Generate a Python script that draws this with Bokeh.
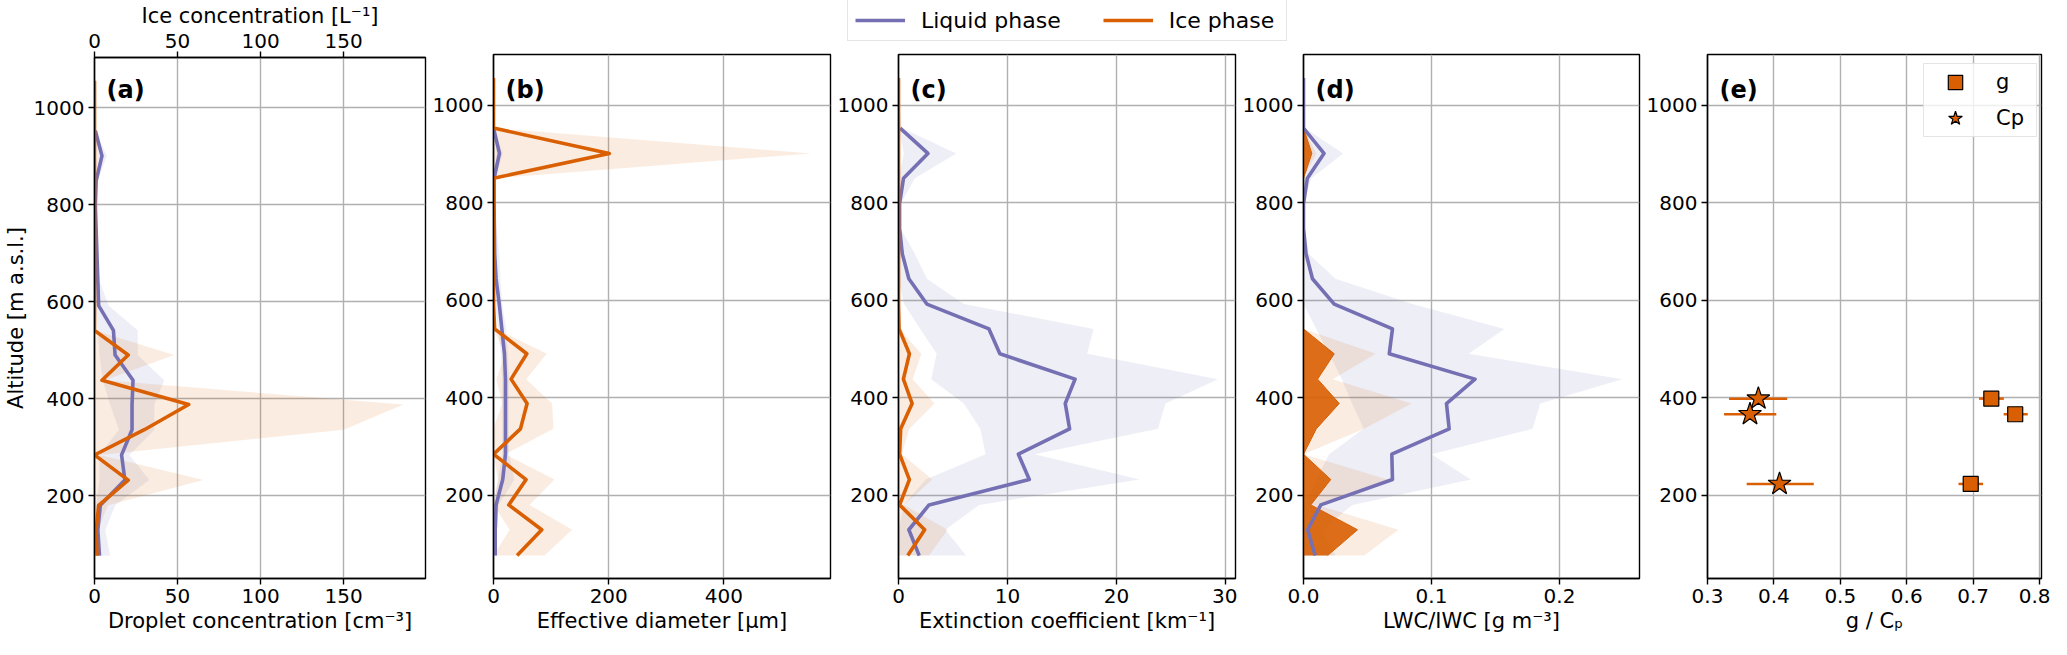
import numpy as np
from bokeh.plotting import figure
from bokeh.layouts import row, column
from bokeh.models import Range1d, LinearAxis, Label, Legend, PrintfTickFormatter
from bokeh.embed import file_html
from bokeh.resources import INLINE

nan = float("nan")

# altitude levels [m a.s.l.], bottom to top
alt = [76, 129, 180, 232, 284, 336, 388, 438, 490, 541,
       592, 644, 695, 747, 798, 850, 901, 953, 1004, 1056]

# (a) droplet concentration [cm-3] / ice concentration [L-1]
nd_mean = [3, 2, 3.5, 18.3, 16.3, 22.6, 22.6, 23.2, 12.4, 11.4,
           2.5, 2, 1.5, 1, 0.5, 1, 4.5, 0.5, nan, nan]
nd_low = [0, 0, 1, 3, 3, 14.7, 9.4, 5, 3, 2,
          0.5, 0.5, 0.5, 0.3, 0, 0, 1.5, 0, 0, 0]
nd_high = [9.4, 6.5, 12.4, 33, 21, 36, 36, 42, 26, 26,
           8.5, 3, 2, 1.5, 1, 2, 7.5, 0.5, 0, 0]
ni_mean = [1.5, 1, 2.5, 20.3, 0, 30, 56.7, 4.5, 20.3, 0,
           0, 0, 0, 0, 0, 0, 0, 0, 0, 0]
ni_high = [3, 2, 8, 65.6, 3, 150, 186, 6, 47.9, 0,
           0, 0, 0, 0, 0, 0, 0, 0, 0, 0]
ni_low = [0, 0, 0, 0, 0, 0, 0, 0, 0, 0,
          0, 0, 0, 0, 0, 0, 0, 0, 0, 0]

# (b) effective diameter [um]
dl_mean = [3, 3, 4.5, 16, 20.8, 20.8, 20.8, 20.8, 19, 14.5,
           10, 4.5, 2, 1.5, 1, 1, 10.4, 0, nan, nan]
dl_low = [0, 0, 0, 8, 15, 15, 15, 15, 13, 8,
          3, 0, 0, 0, 0, 0, 5, 0, 0, 0]
dl_high = [6, 6, 9, 36, 27, 27, 27, 27, 25, 22,
           15, 12, 10, 5, 2, 3, 16, 0.5, 0, 0]
di_mean = [40.9, 83.8, 26.5, 56.6, 0, 46.8, 58.3, 30.5, 57.8, 2,
           0, 0, 0, 0, 0, 0, 201, 0, 0, 0]
di_low = [0, 28, 0, 8, 0, 0, 15, 5, 20, 0,
          0, 0, 0, 0, 0, 0, 0, 0, 0, 0]
di_high = [88.5, 136.4, 62.4, 105.8, 20, 104, 101.7, 56.6, 92.5, 5,
           0, 0, 0, 0, 0, 0, 551, 0, 0, 0]

# (c) extinction coefficient [km-1]
el_mean = [1.9, 0.95, 2.8, 12.0, 11.0, 15.7, 15.3, 16.2, 9.3, 8.3,
           2.6, 0.95, 0.35, 0.1, 0.1, 0.46, 2.7, 0.15, nan, nan]
el_low = [0, 0, 0.5, 2.5, 8, 7.5, 6, 3, 3.5, 2,
          0.5, 0, 0, 0, 0, 0, 0.5, 0, 0, 0]
el_high = [6.2, 4.3, 7.4, 22.1, 12.5, 23.8, 24.5, 29.3, 17.3, 17.9,
           6.0, 2.6, 1.5, 0.2, 0.2, 1.5, 5.3, 0.3, 0, 0]
ei_mean = [0.85, 2.4, 0.1, 1.0, 0.1, 0.2, 1.25, 0.45, 1.0, 0.05,
           0, 0, 0, 0, 0, 0, 0, 0, 0, 0]
ei_low = [0, 0, 0, 0, 0, 0, 0, 0, 0, 0,
          0, 0, 0, 0, 0, 0, 0, 0, 0, 0]
ei_high = [2.8, 4.5, 0.5, 3.1, 0.3, 1.0, 3.3, 1.3, 2.1, 0.1,
           0, 0, 0, 0, 0, 0, 0, 0, 0, 0]

# (d) LWC / IWC [g m-3]
lwc_mean = [0.0091, 0.0033, 0.0135, 0.0695, 0.069, 0.1138, 0.1117, 0.134, 0.067, 0.0695,
            0.024, 0.007, 0.002, 0, 0, 0.003, 0.016, 0, 0, 0]
lwc_low = [0, 0, 0, 0.01, 0.02, 0.047, 0.038, 0.03, 0.02, 0.01,
           0, 0, 0, 0, 0, 0, 0, 0, 0, 0]
lwc_high = [0.025, 0.015, 0.038, 0.1307, 0.1, 0.179, 0.185, 0.249, 0.129, 0.157,
            0.085, 0.025, 0.004, 0.001, 0, 0.006, 0.031, 0.001, 0, 0]
iwc_mean = [0.0188, 0.0422, 0.0057, 0.0213, 0, 0.010, 0.0279, 0.011, 0.024, 0,
            0, 0, 0, 0, 0, 0, 0.0065, 0, 0, 0]
iwc_low = [0, 0, 0, 0, 0, 0, 0, 0, 0, 0,
           0, 0, 0, 0, 0, 0, 0, 0, 0, 0]
iwc_high = [0.0474, 0.0742, 0.01, 0.0656, 0, 0.0474, 0.0844, 0.0227, 0.0565, 0,
            0, 0, 0, 0, 0, 0, 0.01, 0, 0, 0]

# (e) asymmetry parameter g and Cp
e_alt = [398, 366, 223]
g_val = [0.7274, 0.7634, 0.6964]
g_low = [0.709, 0.746, 0.678]
g_high = [0.7463, 0.7823, 0.715]
cp_val = [0.3766, 0.364, 0.4085]
cp_low = [0.3325, 0.325, 0.359]
cp_high = [0.42, 0.4036, 0.46]

FONT = "DejaVu Sans"
LIQ = "#7570b3"
ICE = "#d95f02"
GRID = "#b0b0b0"
FRAME_H = 524
Y_TICKS = [200, 400, 600, 800, 1000]


def style_axis(ax):
    ax.axis_line_color = "black"
    ax.axis_line_width = 1.4
    ax.major_tick_line_width = 1.4
    ax.major_tick_out = 6
    ax.major_tick_in = 0
    ax.minor_tick_line_color = None
    ax.major_label_standoff = 4
    ax.axis_label_standoff = 3
    ax.major_label_text_font = FONT
    ax.major_label_text_font_size = "20px"
    ax.major_label_text_color = "black"
    ax.axis_label_text_font = FONT
    ax.axis_label_text_font_size = "21px"
    ax.axis_label_text_font_style = "normal"
    ax.axis_label_text_color = "black"


def make_panel(width, xr, xticks, xlabel, tag, left=66, right=2, top=2):
    p = figure(width=width, height=top + FRAME_H + 60,
               x_range=Range1d(*xr), y_range=Range1d(29, 1104),
               output_backend="svg", toolbar_location=None,
               min_border_left=left, min_border_right=right,
               min_border_top=top, min_border_bottom=60)
    p.outline_line_color = "black"
    p.outline_line_width = 1.4
    p.xaxis.ticker = xticks
    p.yaxis.ticker = Y_TICKS
    p.xaxis.axis_label = xlabel
    style_axis(p.xaxis[0])
    style_axis(p.yaxis[0])
    p.grid.grid_line_color = GRID
    p.grid.grid_line_width = 1.4
    p.add_layout(Label(x=12, y=FRAME_H - 35, x_units="screen", y_units="screen",
                       text=tag, text_font=FONT, text_font_style="bold",
                       text_font_size="24px", text_baseline="middle",
                       text_color="black"))
    return p


def profile(p, low, high, color, range_name="default"):
    p.harea(x1=low, x2=high, y=alt, fill_color=color, fill_alpha=0.12,
            x_range_name=range_name)


def line(p, mean, color, range_name="default"):
    p.line(x=mean, y=alt, line_color=color, line_width=3.6, line_join="round",
           x_range_name=range_name)


# (a)
pa = make_panel(427, (0, 199.3), [0, 50, 100, 150],
                "Droplet concentration [cm⁻³]", "(a)", left=88, top=54)
pa.yaxis.axis_label = "Altitude [m a.s.l.]"
pa.extra_x_ranges = {"ice": Range1d(0, 199.3)}
top_ax = LinearAxis(x_range_name="ice", axis_label="Ice concentration [L⁻¹]",
                    ticker=[0, 50, 100, 150])
style_axis(top_ax)
pa.add_layout(top_ax, "above")
profile(pa, nd_low, nd_high, LIQ)
profile(pa, ni_low, ni_high, ICE, "ice")
line(pa, nd_mean, LIQ)
line(pa, ni_mean, ICE, "ice")

# (b)
pb = make_panel(405, (0, 585), [0, 200, 400], "Effective diameter [μm]", "(b)")
profile(pb, dl_low, dl_high, LIQ)
profile(pb, di_low, di_high, ICE)
line(pb, dl_mean, LIQ)
line(pb, di_mean, ICE)

# (c)
pc = make_panel(405, (0, 30.92), [0, 10, 20, 30], "Extinction coefficient [km⁻¹]", "(c)")
profile(pc, el_low, el_high, LIQ)
profile(pc, ei_low, ei_high, ICE)
line(pc, el_mean, LIQ)
line(pc, ei_mean, ICE)

# (d)
pd_ = make_panel(404, (0, 0.2625), [0, 0.1, 0.2], "LWC/IWC [g m⁻³]", "(d)")
pd_.xaxis.formatter = PrintfTickFormatter(format="%.1f")
profile(pd_, lwc_low, lwc_high, LIQ)
profile(pd_, iwc_low, iwc_high, ICE)
pd_.harea(x1=0, x2=iwc_mean, y=alt, fill_color=ICE, fill_alpha=0.9)
pd_.line(x=iwc_mean, y=alt, line_color=ICE, line_width=1)
line(pd_, lwc_mean, LIQ)

# (e)
pe = make_panel(409, (0.3, 0.803), [0.3, 0.4, 0.5, 0.6, 0.7, 0.8], "g / Cₚ", "(e)", right=9)
pe.xaxis.formatter = PrintfTickFormatter(format="%.1f")
pe.segment(x0=g_low, y0=e_alt, x1=g_high, y1=e_alt, line_color=ICE, line_width=2.5)
pe.segment(x0=cp_low, y0=e_alt, x1=cp_high, y1=e_alt, line_color=ICE, line_width=2.5)
pe.scatter(x=g_val, y=e_alt, marker="square", size=15, fill_color=ICE,
           line_color="black", line_width=1.2, legend_label="g")
pe.scatter(x=cp_val, y=e_alt, marker="star", size=24, fill_color=ICE,
           line_color="black", line_width=1.2, legend_label="Cp")
lg = pe.legend[0]
lg.location = (216, 441)
lg.padding = 0
lg.spacing = 0
lg.glyph_width = 62
lg.glyph_height = 36
lg.label_height = 36
lg.label_width = 40
lg.label_standoff = 10
lg.label_text_font = FONT
lg.label_text_font_size = "21px"
lg.label_text_color = "black"
lg.border_line_color = "#cccccc"
lg.border_line_width = 1.2
lg.background_fill_alpha = 0.8

# shared legend above panels (b)-(d); the NaN sample rows only feed the legend
leg_fig = figure(width=1623, height=52, x_range=Range1d(0, 1), y_range=Range1d(0, 1),
                 x_axis_type=None, y_axis_type=None, toolbar_location=None,
                 output_backend="svg", min_border=0)
leg_fig.outline_line_color = None
r_liq = leg_fig.line(x=[nan], y=[nan], line_color=LIQ, line_width=3.6)
r_ice = leg_fig.line(x=[nan], y=[nan], line_color=ICE, line_width=3.6)
top_legend = Legend(items=[("Liquid phase", [r_liq]), ("Ice phase", [r_ice])],
                    orientation="horizontal", location=(420, 11),
                    padding=7, spacing=42, glyph_width=50, glyph_height=26,
                    label_height=26, label_width=110, label_standoff=16,
                    label_text_font=FONT, label_text_font_size="22px",
                    label_text_color="black",
                    border_line_color="#cccccc", border_line_width=1.2,
                    background_fill_alpha=0.8)
leg_fig.add_layout(top_legend)

layout = row(pa, column(leg_fig, row(pb, pc, pd_, pe)))

open("out.html", "w").write(file_html(layout, INLINE))
